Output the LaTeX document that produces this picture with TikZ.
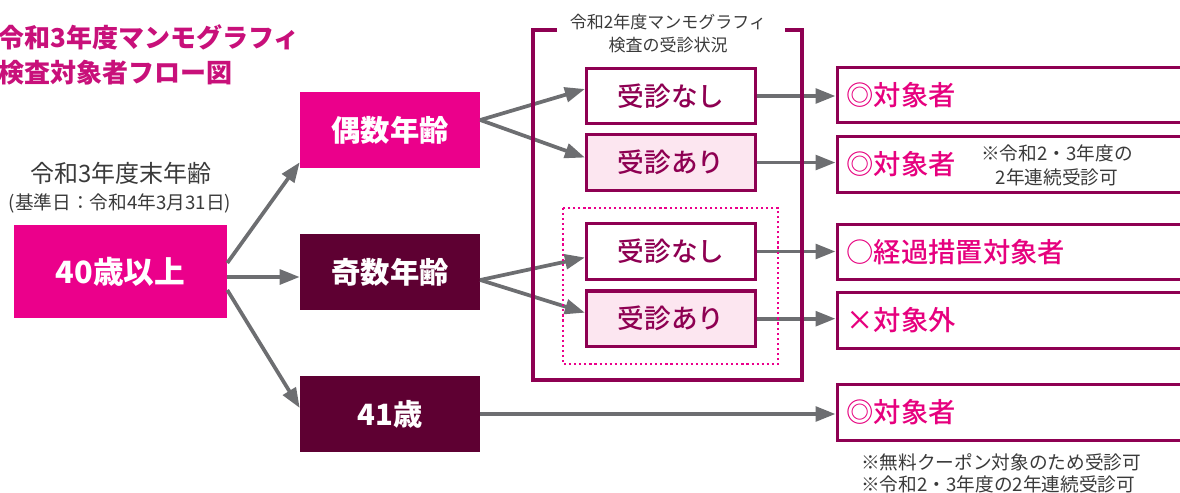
\documentclass[tikz,border=0pt]{standalone}
\usepackage{fontspec}
\setmainfont{Noto Sans CJK JP}
\newfontfamily\medfont{Noto Sans CJK JP Medium}
\usetikzlibrary{arrows.meta,calc,positioning}
\definecolor{mag}{HTML}{EB008B}
\definecolor{maroon}{HTML}{8E0052}
\definecolor{darkmaroon}{HTML}{5E0032}
\definecolor{pinkbg}{HTML}{FCE6F0}
\definecolor{arrgray}{HTML}{6D6E71}
\definecolor{txtgray}{HTML}{3A3A3A}
\definecolor{titlecol}{HTML}{C8107A}
\definecolor{hitcol}{HTML}{E6007E}
\tikzstyle{agebox}=[inner sep=0pt,minimum width=135pt,minimum height=57pt,text=white,font=\fontsize{22pt}{26pt}\selectfont\bfseries]
\tikzstyle{exambox}=[draw=maroon,line width=2.4pt,inner sep=0pt,minimum width=126.75pt,minimum height=41.5pt,text=maroon,font=\fontsize{20pt}{24pt}\medfont]
\tikzstyle{resbox}=[draw=maroon,line width=2.4pt,anchor=west,inner xsep=7pt,inner ysep=0pt,text width=256pt,align=left,minimum height=41.5pt,text=hitcol,font=\fontsize{20.5pt}{24pt}\medfont]
\tikzstyle{note}=[inner sep=0pt,text=txtgray,font=\fontsize{14pt}{18pt}\selectfont]
\tikzstyle{arr}=[draw=arrgray,line width=2.8pt,-{Triangle[length=15pt,width=11pt]}]

\begin{document}
\begin{tikzpicture}[x=0.75pt,y=-0.75pt]
\useasboundingbox (0,0) rectangle (1180,492);

\node[anchor=west,align=left,inner sep=0pt,text=titlecol,font=\fontsize{19.5pt}{26pt}\selectfont\bfseries] (title) at (-2,55) {令和3年度マンモグラフィ\\検査対象者フロー図};

\node[note,font=\fontsize{18pt}{22pt}\selectfont] (lbl) at (121,173) {令和3年度末年齢};
\node[note] (base) at (120,203) {(基準日：令和4年3月31日)};

\node[fill=mag,inner sep=0pt,minimum width=159.75pt,minimum height=69.75pt,text=white,font=\fontsize{23pt}{27pt}\selectfont\bfseries] (age40) at (120.5,271.5) {40歳以上};
\node[agebox,fill=mag] (even) at (390,130) {偶数年齢};
\node[agebox,fill=darkmaroon] (odd) at (390,272) {奇数年齢};
\node[agebox,fill=darkmaroon] (age41) at (390,414) {41歳};

\node[note,font=\fontsize{12.75pt}{17.25pt}\selectfont,align=center] (frametitle) at (668,33.5) {令和2年度マンモグラフィ\\検査の受診状況};

\node[exambox] (no1) at (671,96) {受診なし};
\node[exambox,fill=pinkbg,below=6pt of no1] (yes1) {受診あり};
\node[exambox] (no2) at (671,251.5) {受診なし};
\node[exambox,fill=pinkbg,below=6.5pt of no2] (yes2) {受診あり};

\node[resbox] (r1) at (835.5,95) {◎対象者};
\node[resbox] (r2) at (835.5,164.5) {◎対象者};
\node[resbox] (r3) at (835.5,252) {○経過措置対象者};
\node[resbox] (r4) at (835.5,320.5) {×対象外};
\node[resbox] (r5) at (835.5,412.5) {◎対象者};

\node[note,align=center] (r2note) at (1057,165.5) {※令和2・3年度の\\2年連続受診可};
\node[note,anchor=west,align=left,font=\fontsize{14pt}{16.5pt}\selectfont] (notes) at (861,473) {※無料クーポン対象のため受診可\\※令和2・3年度の2年連続受診可};

\draw[arr] ($(age40.east)+(0,-8.5)$) -- ($(even.south west)+(0,-6)$);
\draw[arr] ($(age40.east)+(0,5.5)$) -- ($(odd.west)+(0,5)$);
\draw[arr] ($(age40.east)+(0,18.5)$) -- ($(age41.west)+(0,-6)$);

\draw[arr] ($(even.east)+(0,-10)$) -- ($(no1.west)+(0,-7)$);
\draw[arr] ($(even.east)+(0,-10)$) -- ($(yes1.west)+(0,-5)$);
\draw[arr] ($(odd.east)+(0,8)$) -- ($(no2.west)+(0,6)$);
\draw[arr] ($(odd.east)+(0,8)$) -- ($(yes2.west)+(0,-6)$);

\draw[arr] (no1.east) -- (no1.east -| r1.west);
\draw[arr] (yes1.east) -- (yes1.east -| r2.west);
\draw[arr] (no2.east) -- (no2.east -| r3.west);
\draw[arr] (yes2.east) -- (yes2.east -| r4.west);
\draw[arr] (age41.east) -- (age41.east -| r5.west);

\draw[maroon,line width=2.5pt] (557,30) -- (533,30) -- (533,380) -- (802,380) -- (802,30) -- (785,30);
\draw[mag,line width=1.6pt,dash pattern=on 1.6pt off 2.2pt] (563,208) rectangle (778,364);
\end{tikzpicture}
\end{document}
